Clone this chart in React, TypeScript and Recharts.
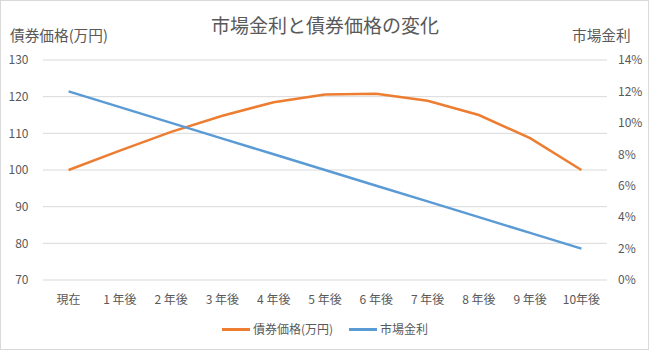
import React from "react";
import { LineChart, Line, XAxis, YAxis, CartesianGrid } from "recharts";

const categories = ["現在", "1 年後", "2 年後", "3 年後", "4 年後", "5 年後", "6 年後", "7 年後", "8 年後", "9 年後", "10年後"];
const bondPrice = [100, 105.3, 110.4, 114.8, 118.5, 120.6, 120.8, 118.9, 115, 108.7, 100];
const marketRate = [0.12, 0.11, 0.1, 0.09, 0.08, 0.07, 0.06, 0.05, 0.04, 0.03, 0.02];
const leftTicks = [70, 80, 90, 100, 110, 120, 130];
const rightTicks = [0, 0.02, 0.04, 0.06, 0.08, 0.1, 0.12, 0.14];

const title = "市場金利と債券価格の変化";
const leftTitle = "債券価格(万円)";
const rightTitle = "市場金利";
const seriesNames = ["債券価格(万円)", "市場金利"];
const seriesColors = ["#ED7D31", "#5B9BD5"];

const data = categories.map((c, i) => ({ name: c, price: bondPrice[i], rate: marketRate[i] }));

const FONT = "'Noto Sans CJK JP', 'Noto Sans', sans-serif";
const TXT = "#595959";

export default function App() {
  return (
    <div style={{ position: "absolute", left: 0, top: 0, width: 650, height: 351, background: "#fff", fontFamily: FONT }}>
      <div style={{ position: "absolute", left: 0, top: 0, width: 649, height: 350, border: "1px solid #d9d9d9", boxSizing: "border-box" }} />
      <LineChart width={650} height={351} data={data} margin={{ top: 60, right: 0, bottom: 41, left: 0 }}>
        <CartesianGrid yAxisId="left" vertical={false} stroke="#d9d9d9" strokeWidth={1} />
        <XAxis
          dataKey="name"
          interval={0}
          axisLine={false}
          tickLine={false}
          tickSize={0}
          tickMargin={15}
          height={30}
          padding={{ left: 25.6, right: 25.6 }}
          tick={{ fontSize: 12, fill: TXT, fontFamily: FONT }}
        />
        <YAxis
          yAxisId="left"
          orientation="left"
          domain={[70, 130]}
          ticks={leftTicks}
          width={43}
          axisLine={false}
          tickLine={false}
          tickSize={0}
          tickMargin={14.5}
          tick={{ fontSize: 12, fill: TXT, fontFamily: FONT }}
        />
        <YAxis
          yAxisId="right"
          orientation="right"
          domain={[0, 0.14]}
          ticks={rightTicks}
          width={43}
          axisLine={false}
          tickLine={false}
          tickSize={0}
          tickMargin={11}
          tickFormatter={(v: number) => `${Math.round(v * 100)}%`}
          tick={{ fontSize: 12, fill: TXT, fontFamily: FONT, textAnchor: "start" }}
        />
        <Line yAxisId="left" type="linear" dataKey="price" name={seriesNames[0]} stroke={seriesColors[0]} strokeWidth={2.5} dot={false} isAnimationActive={false} />
        <Line yAxisId="right" type="linear" dataKey="rate" name={seriesNames[1]} stroke={seriesColors[1]} strokeWidth={2.5} dot={false} isAnimationActive={false} />
      </LineChart>
      <div style={{ position: "absolute", left: 0, width: 650, top: 11, textAlign: "center", fontSize: 19, color: TXT, lineHeight: "28px" }}>{title}</div>
      <div style={{ position: "absolute", left: 10, top: 25, fontSize: 14.67, color: TXT, lineHeight: "20px" }}>{leftTitle}</div>
      <div style={{ position: "absolute", left: 572, top: 25, fontSize: 14.67, color: TXT, lineHeight: "20px" }}>{rightTitle}</div>
      <div style={{ position: "absolute", left: 0, width: 650, top: 320, display: "flex", justifyContent: "center", alignItems: "center", fontSize: 12, color: TXT, lineHeight: "18px" }}>
        {seriesNames.map((n, i) => (
          <div key={n} style={{ display: "flex", alignItems: "center", marginRight: i === 0 ? 16 : 0 }}>
            <div style={{ width: 28, height: 3, background: seriesColors[i], marginRight: 3 }} />
            <span>{n}</span>
          </div>
        ))}
      </div>
    </div>
  );
}
